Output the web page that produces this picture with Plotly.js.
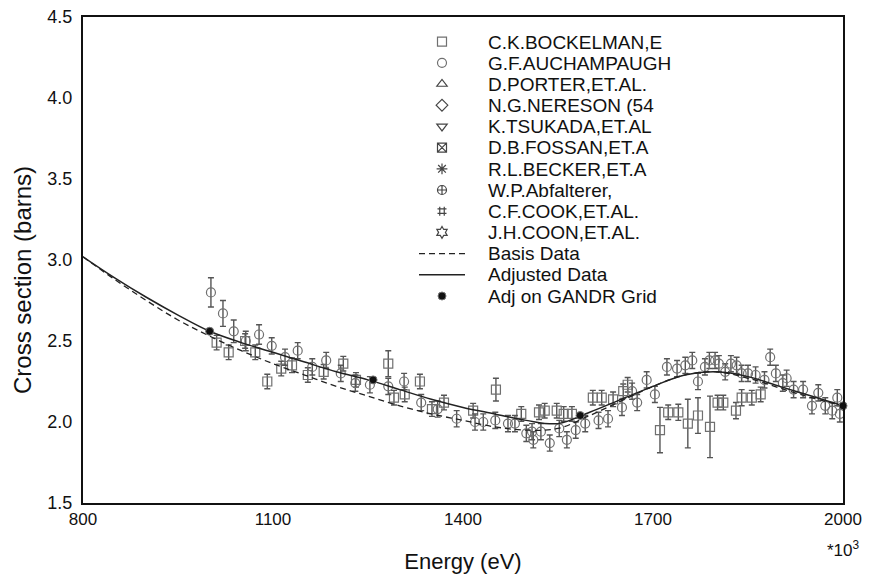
<!DOCTYPE html>
<html>
<head>
<meta charset="utf-8">
<script src="https://cdn.plot.ly/plotly-3.0.1.min.js"></script>
<style>html,body{margin:0;padding:0;background:#fff;}#chart{width:869px;height:575px;}</style>
</head>
<body>
<div id="chart"></div>
<script>
// Energy in keV (axis labelled with *10^3 eV)
const curveE = [800,850,900,950,1000,1050,1100,1150,1200,1250,1300,1350,1400,1450,1500,1550,1600,1650,1700,1750,1800,1850,1900,1950,2000];
const adjusted = [3.02,2.89,2.77,2.66,2.56,2.49,2.43,2.37,2.31,2.26,2.20,2.14,2.09,2.05,2.01,1.99,2.06,2.14,2.22,2.29,2.31,2.28,2.22,2.16,2.10];
const basis    = [3.02,2.88,2.75,2.63,2.53,2.44,2.36,2.29,2.22,2.16,2.10,2.05,2.01,1.97,1.95,1.96,2.04,2.13,2.22,2.29,2.31,2.27,2.21,2.15,2.10];

const gandrE = [1000,1258,1585,2000];
const gandrV = [2.56,2.26,2.04,2.10];

const bockE = [1011,1030,1056,1072,1091,1113,1130,1155,1180,1211,1231,1282,1291,1308,1332,1351,1370,1416,1452,1492,1520,1529,1548,1559,1572,1605,1619,1637,1653,1660,1711,1724,1740,1755,1771,1790,1802,1811,1831,1840,1856,1870];
const bockV = [2.49,2.43,2.50,2.43,2.25,2.33,2.35,2.29,2.31,2.36,2.26,2.36,2.15,2.17,2.25,2.08,2.12,2.07,2.20,2.05,2.06,2.07,2.07,2.05,2.05,2.15,2.15,2.14,2.19,2.23,1.95,2.06,2.06,1.99,2.04,1.97,2.12,2.12,2.07,2.15,2.15,2.17];
const bockErr = [0.045,0.045,0.045,0.045,0.045,0.045,0.045,0.045,0.045,0.045,0.045,0.08,0.045,0.045,0.045,0.045,0.045,0.045,0.07,0.045,0.045,0.045,0.045,0.045,0.045,0.045,0.045,0.045,0.045,0.045,0.14,0.045,0.05,0.15,0.11,0.19,0.045,0.045,0.05,0.05,0.045,0.045];

const aucE = [1002,1021,1038,1057,1078,1098,1119,1139,1162,1184,1207,1230,1253,1282,1307,1334,1360,1390,1419,1432,1451,1471,1482,1500,1509,1511,1523,1537,1552,1564,1578,1593,1614,1629,1651,1667,1675,1690,1703,1722,1738,1751,1762,1771,1782,1789,1798,1804,1814,1823,1832,1840,1850,1862,1876,1885,1894,1905,1911,1922,1937,1951,1961,1972,1983,1991,1995];
const aucV = [2.80,2.67,2.56,2.50,2.54,2.47,2.40,2.44,2.34,2.38,2.30,2.24,2.23,2.22,2.25,2.12,2.08,2.02,2.00,2.00,2.01,1.99,1.99,1.93,1.94,1.89,1.94,1.87,1.96,1.89,1.95,1.99,2.01,2.02,2.09,2.19,2.12,2.26,2.17,2.34,2.33,2.35,2.38,2.25,2.34,2.38,2.38,2.36,2.31,2.36,2.35,2.30,2.30,2.29,2.26,2.40,2.30,2.24,2.27,2.20,2.20,2.10,2.18,2.10,2.07,2.15,2.05];
const aucErr = [0.09,0.08,0.07,0.06,0.06,0.05,0.05,0.05,0.05,0.05,0.05,0.05,0.05,0.05,0.05,0.05,0.05,0.05,0.05,0.05,0.05,0.05,0.05,0.05,0.05,0.05,0.05,0.05,0.05,0.05,0.05,0.05,0.05,0.05,0.05,0.05,0.05,0.05,0.05,0.05,0.05,0.05,0.05,0.05,0.05,0.05,0.05,0.05,0.05,0.05,0.05,0.05,0.05,0.05,0.05,0.05,0.05,0.05,0.05,0.05,0.05,0.05,0.05,0.05,0.05,0.05,0.05];

const legendNames = ["C.K.BOCKELMAN,E","G.F.AUCHAMPAUGH","D.PORTER,ET.AL.","N.G.NERESON (54","K.TSUKADA,ET.AL","D.B.FOSSAN,ET.A","R.L.BECKER,ET.A","W.P.Abfalterer,","C.F.COOK,ET.AL.","J.H.COON,ET.AL.","Basis Data","Adjusted Data","Adj on GANDR Grid"];
const xTicks = [800,1100,1400,1700,2000];
const yTicks = [1.5,2.0,2.5,3.0,3.5,4.0,4.5];

const grey = '#707070';
const errStyle = (arr)=>({type:'data', array:arr, visible:true, color:'#555', thickness:1.4, width:3});
const blank = '\u00a0';

const traces = [];
traces.push({x:bockE, y:bockV, name:blank, mode:'markers', type:'scatter',
  marker:{symbol:'square-open', size:9, color:grey, line:{width:1.2, color:grey}}, error_y:errStyle(bockErr)});
traces.push({x:aucE, y:aucV, name:blank, mode:'markers', type:'scatter',
  marker:{symbol:'circle-open', size:9, color:grey, line:{width:1.2, color:grey}}, error_y:errStyle(aucErr)});
const otherSyms = ['triangle-up-open','diamond-open','triangle-down-open','square-x-open','asterisk-open','circle-cross-open','hash-open','hexagram-open'];
otherSyms.forEach((s)=>{
  traces.push({x:[null], y:[null], name:blank, mode:'markers', type:'scatter',
    marker:{symbol:s, size:9, color:'#444', line:{width:1.2, color:'#444'}}});
});
traces.push({x:curveE, y:basis, name:blank, mode:'lines', type:'scatter',
  line:{color:'#222', width:1.3, dash:'6px,4px', shape:'spline'}});
traces.push({x:curveE, y:adjusted, name:blank, mode:'lines', type:'scatter',
  line:{color:'#222', width:1.5, shape:'spline'}});
traces.push({x:gandrE, y:gandrV, name:blank, mode:'markers', type:'scatter', cliponaxis:false,
  marker:{symbol:'circle', size:8, color:'#111', line:{width:1, color:'#777'}}});

// Legend labels as text next to the legend keys
const L = 83, W = 760, T = 17, H = 486;
const legendAnn = legendNames.map((n,i)=>({
  xref:'paper', yref:'paper', x:(486-L)/W, y:1-((42+21.17*i)-T)/H, xanchor:'left', yanchor:'middle',
  text:n, showarrow:false, font:{size:19, family:'Liberation Sans, Arial, sans-serif', color:'#111'}
}));

const layout = {
  width:869, height:575,
  margin:{l:83, r:26, t:17, b:72},
  paper_bgcolor:'#fff', plot_bgcolor:'#fff',
  font:{family:'Liberation Sans, Arial, sans-serif', color:'#111'},
  showlegend:true,
  legend:{x:(414-L)/W, y:1-(26-T)/H, xanchor:'left', yanchor:'top', bgcolor:'rgba(0,0,0,0)', borderwidth:0,
    font:{size:14, family:'Liberation Sans, Arial, sans-serif', color:'#111'}, tracegroupgap:0, itemwidth:46},
  xaxis:{range:[800,2000], tickvals:xTicks, ticktext:xTicks.map(String), showgrid:false, zeroline:false,
    showline:true, mirror:true, linecolor:'#111', linewidth:2, ticks:'', ticklen:0,
    tickfont:{size:17},
    title:{text:'Energy (eV)', font:{size:22}, standoff:25}},
  yaxis:{range:[1.5,4.5], tickvals:yTicks, ticktext:yTicks.map(v=>v.toFixed(1)), showgrid:false, zeroline:false,
    showline:true, mirror:true, linecolor:'#111', linewidth:2, ticks:'', ticklen:0, ticklabelstandoff:5,
    tickfont:{size:18}},
  annotations:[{xref:'paper', yref:'paper', x:1, y:0, xanchor:'center', yanchor:'top', yshift:-33, xshift:0,
    text:'*10<sup>3</sup>', showarrow:false, font:{size:17}},
    {xref:'paper', yref:'paper', x:(22-L)/W, y:1-(280-T)/H, xanchor:'center', yanchor:'middle', textangle:-90,
    text:'Cross section (barns)', showarrow:false, font:{size:24}}].concat(legendAnn)
};
Plotly.newPlot('chart', traces, layout, {displayModeBar:false, staticPlot:true});
</script>
</body>
</html>
